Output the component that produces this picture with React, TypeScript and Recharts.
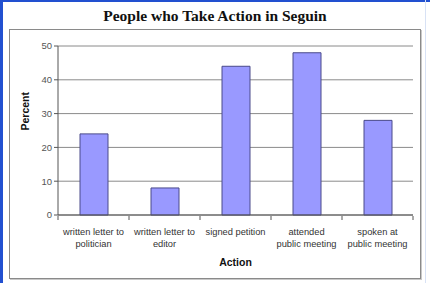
import React from 'react';
import { BarChart, Bar, XAxis, YAxis, CartesianGrid } from 'recharts';

const categories = [
  ['written letter to', 'politician'],
  ['written letter to', 'editor'],
  ['signed petition'],
  ['attended', 'public meeting'],
  ['spoken at', 'public meeting'],
];
const percents = [24, 8, 44, 48, 28];
const yTicks = [0, 10, 20, 30, 40, 50];

const data = categories.map((lines, i) => ({ name: lines.join(' '), value: percents[i] }));

const font = 'Arial, "Liberation Sans", sans-serif';

// two-line category labels, plus Excel-style tick marks on the category boundaries
function CategoryTick(props: any) {
  const { x, y, payload } = props;
  const lines = categories[payload.index] || [String(payload.value)];
  const half = payload.offset || 0;
  const last = payload.index === categories.length - 1;
  return (
    <g transform={`translate(${x},${y})`}>
      <line x1={-half} x2={-half} y1={-7} y2={-3} stroke="#555" />
      {last && <line x1={half} x2={half} y1={-7} y2={-3} stroke="#555" />}
      {lines.map((t, i) => (
        <text key={i} x={0} y={12 + i * 12} textAnchor="middle" fontSize={9.3} fill="#333" fontFamily={font}>
          {t}
        </text>
      ))}
    </g>
  );
}

export default function App() {
  return (
    <div style={{ position: 'absolute', left: 0, top: 0, width: 430, height: 283, background: '#fff', overflow: 'hidden' }}>
      <div style={{ position: 'absolute', left: 0, top: 0, width: 3, height: 283, background: '#2250d0' }} />
      <div style={{ position: 'absolute', left: 0, top: 0, width: 430, height: 2, background: '#2250d0' }} />
      <div style={{ position: 'absolute', right: 4, top: 0, width: 1, height: 283, background: '#d8e2f5' }} />
      <div
        style={{
          position: 'absolute', left: 0, top: 7, width: 430, textAlign: 'center',
          fontFamily: '"Liberation Serif", "Times New Roman", serif', fontWeight: 'bold', fontSize: 15.5, color: '#111',
        }}
      >
        People who Take Action in Seguin
      </div>
      <div
        style={{
          position: 'absolute', left: 9, top: 29, width: 410, height: 248,
          border: '1px solid #8a8a8a', boxShadow: '1px 1px 0 #c8c8c8',
        }}
      >
        <BarChart width={410} height={248} data={data} margin={{ top: 16, right: 7, left: 0, bottom: 0 }} barCategoryGap={0}>
          <CartesianGrid vertical={false} stroke="#8a8a8a" strokeWidth={1} />
          <XAxis
            dataKey="name"
            interval={0}
            tick={<CategoryTick />}
            tickLine={false}
            axisLine={{ stroke: '#555' }}
            height={63}
            label={{ value: 'Action', position: 'insideBottom', offset: 12, fontSize: 10.5, fontWeight: 'bold', fill: '#111', fontFamily: font }}
          />
          <YAxis
            domain={[0, 50]}
            ticks={yTicks}
            width={48}
            tick={{ fontSize: 9.5, fill: '#555', fontFamily: font }}
            tickLine={{ stroke: '#555' }}
            tickSize={4}
            axisLine={{ stroke: '#555' }}
            label={{ value: 'Percent', angle: -90, position: 'insideLeft', offset: 15, fontSize: 10.5, fontWeight: 'bold', fill: '#111', fontFamily: font }}
          />
          <YAxis yAxisId="right" orientation="right" width={0} tick={false} tickLine={false} axisLine={{ stroke: '#8a8a8a' }} />
          <Bar dataKey="value" fill="#9999ff" stroke="#4a4a8a" strokeWidth={1} barSize={28} isAnimationActive={false} />
        </BarChart>
      </div>
    </div>
  );
}
